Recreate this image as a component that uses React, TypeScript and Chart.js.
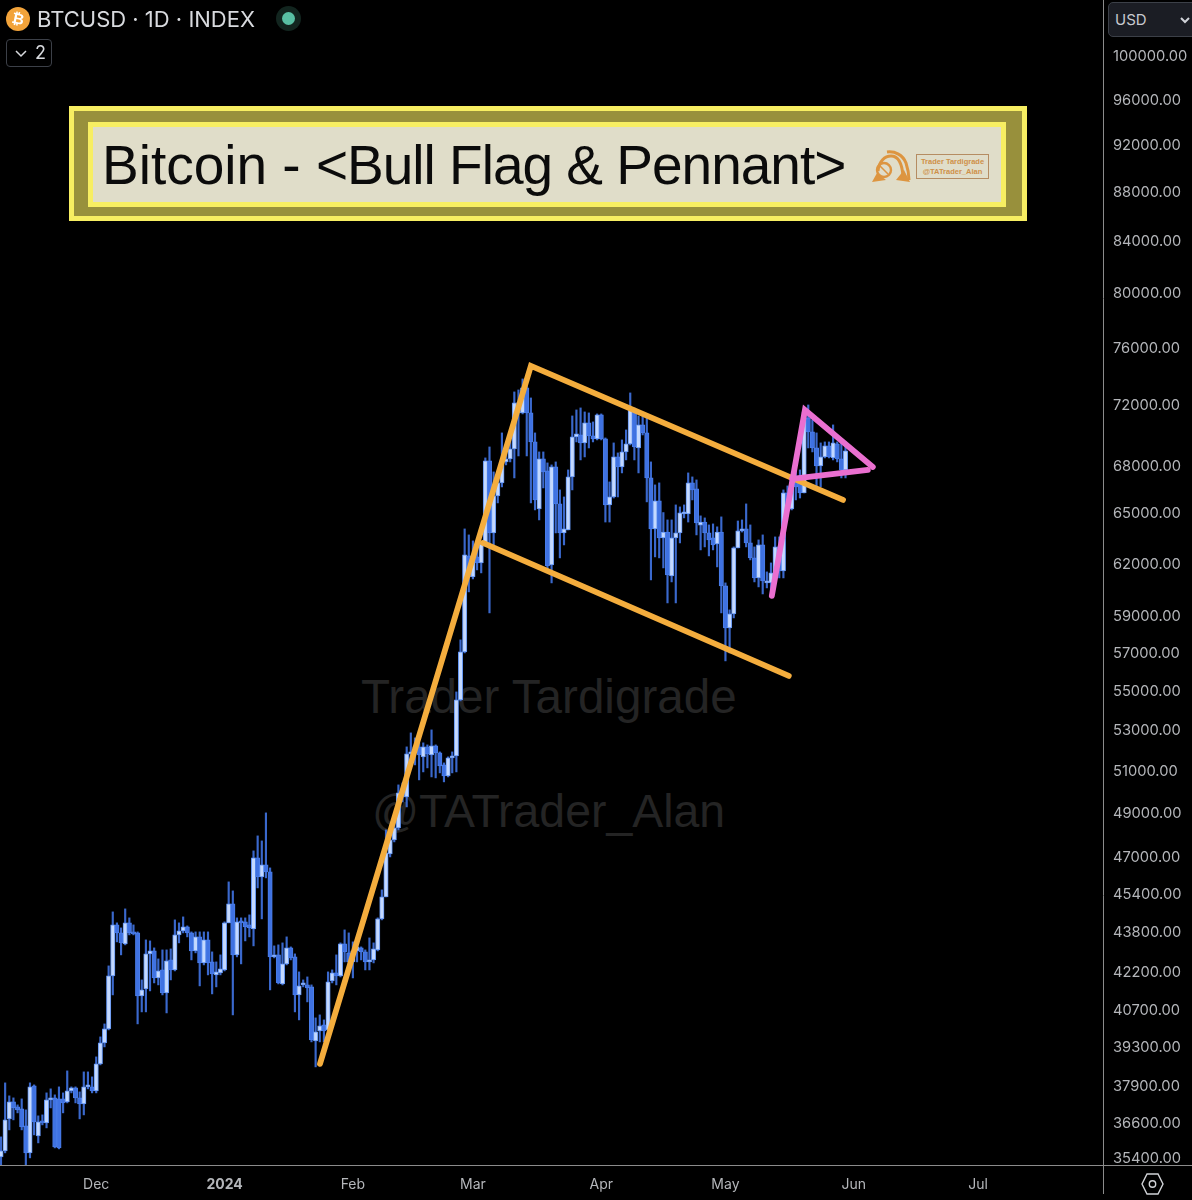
import React, { useEffect, useRef } from "react";
import { Chart, registerables } from "chart.js";

Chart.register(...registerables);

// Daily candles, 8 Nov 2023 (index 0) to 30 May 2024 (index 204)
const opens = [
  35397,35598,36688,37280,37105,37035,36447,35531,37847,36105,
  36584,36550,37350,37421,37385,37385,37280,37668,37776,37421,
  37210,37811,37811,37668,38639,39412,39935,41980,44048,43717,
  43266,44132,43717,43717,41197,41469,42860,42981,41901,42218,
  41313,42618,42218,43635,43799,43965,43717,42981,43553,42498,
  43429,42538,42020,42099,42218,44132,44928,42820,44173,44173,
  44048,43882,46918,46086,46610,46304,42740,42820,41665,42458,
  43103,42740,41235,41626,41626,41548,39486,39860,40085,39897,
  41783,42099,41980,43266,42901,42538,42981,43103,42941,42538,
  42618,43022,44298,45226,47096,47721,48264,49883,49696,51751,
  51848,52094,51605,52094,51702,52143,51800,51217,50689,51556,
  51653,54453,56973,62368,61147,62310,61957,63076,68209,63734,
  66000,66810,68145,68337,68984,72040,71365,73066,71365,69441,
  65192,68337,67569,61841,67825,65500,63734,63914,67188,69769,
  69900,69376,70694,69835,69637,71230,69637,65438,65932,68466,
  67825,68790,69310,71635,69048,70563,70033,67125,63974,65688,
  63441,63787,61205,63441,63734,64885,64885,66810,66432,64205,
  64391,63734,63441,63076,63787,60629,58277,59051,62840,63854,
  63974,63136,62251,61088,63017,60801,60801,61377,62899,61492,
  66183,65192,66872,66872,66183,71029,70100,69048,67889,68466,
  69179,68402,69310,68337,67633,
];
const closes = [
  35598,36653,37280,37070,37000,36412,35531,37811,36584,36584,
  36550,37350,37421,35732,35698,37245,37668,37776,37421,37210,
  37811,37847,37668,38639,39412,39935,41980,44048,43717,43307,
  44132,43717,43676,41197,41430,42860,42981,41901,42178,41313,
  42578,42218,43635,43799,43965,43717,42981,43553,42498,43429,
  42498,42060,42139,42258,44132,44928,42820,44173,44132,43965,
  43923,46918,46086,46610,46304,42740,42820,41704,42458,43103,
  42699,41235,41587,41704,41508,39523,39822,40047,39860,41744,
  42099,41980,43266,42941,42538,42981,43144,42941,42538,42618,
  43062,44298,45226,47140,47721,48264,49883,49696,51751,51848,
  52094,51702,52094,51751,52143,51800,51169,50689,51556,51653,
  54453,56973,62427,61147,62310,61957,63076,68209,63734,66000,
  66810,68145,68337,68984,72040,71365,73066,71365,69441,65747,
  68337,67506,61783,67825,65500,63734,63974,67188,69769,69967,
  69376,70694,69835,69637,71230,69637,65438,65932,68466,67825,
  68790,69310,71567,69113,70563,70033,67125,63974,65688,63441,
  63787,61261,63441,63734,64947,64947,66810,66370,64334,64391,
  63734,63315,63017,63787,60629,58277,59051,62840,63854,63974,
  63136,62251,61088,63017,60915,60858,61377,62899,61492,66183,
  65255,66872,66558,66183,71432,70100,69048,67889,68466,69179,
  68466,69376,68337,67633,68855,
];
const highs = [
  36070,37954,37492,37421,37175,37385,37000,37954,37882,36792,
  36826,37598,37740,37527,37811,37598,38385,37811,37811,37633,
  38349,38349,38169,38895,39635,40122,42378,44591,44132,43923,
  44717,44340,44048,43758,41822,43429,43388,43103,42658,43022,
  43022,43062,44256,44132,44381,44006,43758,43758,43758,43758,
  43758,42941,42538,42820,44173,45870,45482,44340,44340,44340,
  44465,47230,47902,47676,48952,46478,43185,43226,43307,43553,
  43144,42860,42139,41822,41940,41626,40351,40465,40275,42139,
  42218,42820,43307,43840,43717,43348,43511,43144,43022,43511,
  43307,44340,45525,48173,48173,48538,50261,50356,52094,52785,
  52537,52292,52292,52192,52935,52192,51848,51313,51605,51848,
  54864,57621,63974,63614,63255,63315,63195,68402,69113,67506,
  67188,70033,68919,70033,72792,72928,73688,73757,72380,70033,
  68790,68790,68081,67953,68145,66370,65932,67633,71163,71567,
  71702,71432,71365,70763,71298,71298,69703,66872,69376,68725,
  69572,70231,72723,71702,71163,71230,71163,68145,66684,66810,
  64969,64519,64519,65438,65315,65438,67442,67188,66998,64765,
  64642,64216,64277,64100,64704,60801,59273,62899,64455,64519,
  65500,64216,62899,63315,63614,61435,61957,63494,63494,66370,
  66620,66998,67633,67633,71567,71902,70896,70033,69376,69441,
  69441,70563,69441,69441,69441,
];
const lows = [
  35131,35531,36309,36653,36896,36309,35131,35364,36139,35867,
  36481,36378,37070,35698,35665,36896,37245,37598,37245,36688,
  36826,37740,37598,37598,38603,39263,39897,41235,43348,42820,
  43226,43635,43635,40124,40580,40580,41391,41704,41626,41235,
  40541,41822,42178,43307,43717,43553,42618,42901,41587,42418,
  42020,41274,41548,42020,42178,44132,40465,42740,42458,43388,
  43553,43185,45611,44298,46043,41430,42699,41665,41626,42418,
  42618,40580,40275,41548,40964,39449,38530,39449,39449,39860,
  41704,41626,41940,42538,42020,41901,42538,42618,42218,42218,
  42498,42981,44256,45226,46962,47631,48173,49462,49229,51217,
  51217,50498,50880,51073,50641,50594,50833,50404,50641,50833,
  50880,54402,56919,60288,61030,61550,61377,63017,59106,62840,
  65562,66558,67953,68145,67125,68530,71298,68530,65562,65130,
  64519,66495,61550,60801,63734,62251,63017,63914,66370,69441,
  68273,68466,69048,69441,69572,69572,64391,64391,65866,65932,
  67442,68273,69245,68273,67442,69900,65625,60973,62310,62251,
  61667,59665,60858,59665,63136,64642,64391,65747,63614,62721,
  62899,62368,62721,61725,59106,56492,56919,58828,62840,63787,
  62899,62133,60858,60572,60172,60515,60004,60973,61088,61088,
  64824,65130,65747,65866,66183,69048,68790,66370,66558,68402,
  68402,68273,68145,67125,67125,
];

// Axis ticks
const priceTicks = [
  35400,36600,37900,39300,40700,42200,43800,45400,47000,49000,51000,53000,55000,
  57000,59000,62000,65000,68000,72000,76000,80000,84000,88000,92000,96000,100000,
];
const monthTickDays = [23, 54, 85, 114, 145, 175, 206, 236];
const monthTickLabels = ["Dec", "2024", "Feb", "Mar", "Apr", "May", "Jun", "Jul"];

// Drawn trend lines (day index, price)
const poleAndFlagTopDays = [77.05, 128, 203.4];
const poleAndFlagTopPrices = [38639, 74600, 65747];
const flagBottomDays = [116.4, 190.3];
const flagBottomPrices = [63136, 55700];
const pennantUpperDays = [186.2, 194.2, 210.6];
const pennantUpperPrices = [60062, 71567, 67825];
const pennantLowerDays = [209.4, 191.1];
const pennantLowerPrices = [67633, 67060];

const titleLead = "Bitcoin - ";
const titleRest = "<Bull Flag & Pennant>";
const symbolLine = "BTCUSD · 1D · INDEX";

const AXIS_COLOR = "#8b8b8b";
const LABEL_COLOR = "#b4b6ba";
const ORANGE = "#f4ad3d";
const PINK = "#ea6fd0";

const pts = (xs: number[], ys: number[]) => xs.map((x, i) => ({ x, y: ys[i] }));

const trend = (xs: number[], ys: number[], color: string, order: number) => ({
  type: "line" as const,
  data: pts(xs, ys),
  borderColor: color,
  borderWidth: 5.8,
  pointRadius: 0,
  tension: 0,
  fill: false,
  borderCapStyle: "round" as const,
  borderJoinStyle: "miter" as const,
  order,
});

const frameLines = {
  id: "frameLines",
  afterDraw(chart: any) {
    const { ctx, chartArea } = chart;
    ctx.save();
    ctx.strokeStyle = AXIS_COLOR;
    ctx.lineWidth = 1;
    ctx.beginPath();
    ctx.moveTo(0, chartArea.bottom + 0.5);
    ctx.lineTo(1192, chartArea.bottom + 0.5);
    ctx.moveTo(chartArea.right + 0.5, 0);
    ctx.lineTo(chartArea.right + 0.5, 1194);
    ctx.stroke();
    ctx.restore();
  },
};

const noPadding = (s: any) => {
  s.paddingTop = 0;
  s.paddingBottom = 0;
  s.paddingLeft = 0;
  s.paddingRight = 0;
};

function CandleChart() {
  const ref = useRef<HTMLCanvasElement>(null);
  useEffect(() => {
    if (!ref.current) return;
    const isUp = closes.map((c, i) => c >= opens[i]);
    const chart = new Chart(ref.current, {
      type: "bar",
      data: {
        datasets: [
          trend(pennantUpperDays, pennantUpperPrices, PINK, 0),
          trend(pennantLowerDays, pennantLowerPrices, PINK, 0),
          trend(poleAndFlagTopDays, poleAndFlagTopPrices, ORANGE, 1),
          trend(flagBottomDays, flagBottomPrices, ORANGE, 1),
          {
            type: "bar" as const,
            data: opens.map((o, i) => ({ x: i, y: [o, closes[i]] })),
            grouped: false,
            barThickness: 4.4,
            minBarLength: 2,
            borderWidth: 1,
            borderSkipped: false,
            backgroundColor: isUp.map((u) => (u ? "#c4d9ff" : "#3f72e2")),
            borderColor: isUp.map((u) => (u ? "#6395f2" : "#4a7de8")),
            order: 2,
          },
          {
            type: "bar" as const,
            data: lows.map((l, i) => ({ x: i, y: [l, highs[i]] })),
            grouped: false,
            barThickness: 1.5,
            borderWidth: 0,
            backgroundColor: "#3a68cc",
            order: 3,
          },
        ] as any,
      },
      options: {
        responsive: false,
        animation: false,
        layout: { padding: 0 },
        events: [],
        plugins: { legend: { display: false }, tooltip: { enabled: false } },
        scales: {
          x: {
            type: "linear",
            min: -0.2415,
            max: 266.2,
            offset: false,
            grid: { display: false },
            border: { display: false },
            afterBuildTicks: (s: any) => {
              s.ticks = monthTickDays.map((value) => ({ value }));
            },
            afterFit: (s: any) => {
              s.height = 35;
              noPadding(s);
            },
            ticks: {
              autoSkip: false,
              maxRotation: 0,
              padding: 3,
              color: LABEL_COLOR,
              font: (c: any) => ({
                family: "Inter, sans-serif",
                size: 14,
                weight: monthTickLabels[c.index] === "2024" ? "bold" : "normal",
              }),
              callback: (_v: any, i: number) => monthTickLabels[i],
            },
          },
          y: {
            type: "logarithmic",
            position: "right",
            min: 35127,
            max: 105319,
            grid: { display: false },
            border: { display: false },
            afterBuildTicks: (s: any) => {
              s.ticks = priceTicks.map((value) => ({ value }));
            },
            afterFit: (s: any) => {
              s.width = 89;
              noPadding(s);
            },
            ticks: {
              autoSkip: false,
              padding: 2,
              labelOffset: 2,
              color: LABEL_COLOR,
              font: { family: "Inter, sans-serif", size: 14.7 },
              callback: (v: any) => Number(v).toFixed(2),
            },
          },
        },
      } as any,
      plugins: [frameLines],
    });
    return () => chart.destroy();
  }, []);
  return (
    <canvas
      ref={ref}
      width={1192}
      height={1200}
      style={{ position: "absolute", left: 0, top: 0, display: "block" }}
    />
  );
}

const abs = (s: React.CSSProperties): React.CSSProperties => ({ position: "absolute", ...s });

export default function App() {
  return (
    <div
      style={{
        position: "relative",
        width: 1192,
        height: 1200,
        background: "#000",
        overflow: "hidden",
        fontFamily: "Inter, sans-serif",
      }}
    >
      <style>{"html,body{margin:0;background:#000}"}</style>

      {/* watermark under the candles */}
      <div
        style={abs({
          left: 361,
          top: 669,
          fontFamily: "'Liberation Sans', sans-serif",
          fontSize: 47.6,
          lineHeight: "56px",
          color: "#242424",
          whiteSpace: "nowrap",
        })}
      >
        Trader Tardigrade
      </div>
      <div
        style={abs({
          left: 372,
          top: 783,
          fontFamily: "'Liberation Sans', sans-serif",
          fontSize: 46.4,
          lineHeight: "56px",
          color: "#242424",
          whiteSpace: "nowrap",
        })}
      >
        @TATrader_Alan
      </div>

      <CandleChart />

      {/* symbol header */}
      <div
        style={abs({
          left: 6,
          top: 7,
          width: 24,
          height: 24,
          borderRadius: 12,
          background: "#f2a33a",
          color: "#fff",
          fontFamily: "'DejaVu Sans', sans-serif",
          fontWeight: 700,
          fontSize: 15,
          lineHeight: "24px",
          textAlign: "center",
        })}
      >
        <span style={{ display: "inline-block", transform: "rotate(12deg)" }}>₿</span>
      </div>
      <div
        style={abs({
          left: 37,
          top: 6,
          fontSize: 22,
          lineHeight: "26px",
          color: "#d8dade",
          whiteSpace: "nowrap",
        })}
      >
        {symbolLine}
      </div>
      <div style={abs({ left: 276, top: 6, width: 25, height: 25, borderRadius: 13, background: "#12251f" })} />
      <div style={abs({ left: 282, top: 12, width: 13, height: 13, borderRadius: 7, background: "#58bfa3" })} />
      <div
        style={abs({
          left: 6,
          top: 39,
          width: 44,
          height: 26,
          border: "1px solid #3c4048",
          borderRadius: 4,
          boxSizing: "content-box",
        })}
      >
        <svg width="14" height="10" style={{ position: "absolute", left: 7, top: 9 }}>
          <path d="M2 2 L7 7 L12 2" stroke="#d8dade" strokeWidth="1.5" fill="none" />
        </svg>
        <span style={abs({ left: 28, top: 1, fontSize: 18, lineHeight: "24px", color: "#d8dade" })}>2</span>
      </div>

      {/* currency selector */}
      <div
        style={abs({
          left: 1108,
          top: 2,
          width: 92,
          height: 35,
          boxSizing: "border-box",
          background: "#1b1d24",
          border: "1px solid #3c4048",
          borderRadius: 5,
        })}
      >
        <span style={abs({ left: 6, top: 7, fontSize: 15, lineHeight: "20px", color: "#c8cad0" })}>USD</span>
        <svg width="12" height="8" style={{ position: "absolute", left: 71, top: 14 }}>
          <path d="M1 1 L5 5 L9 1" stroke="#d0d2d8" strokeWidth="2" fill="none" />
        </svg>
      </div>

      {/* settings icon */}
      <svg width="24" height="24" style={{ position: "absolute", left: 1141, top: 1172 }}>
        <path d="M6 2 L17 2 L22 12 L17 22 L6 22 L1 12 Z" stroke="#d0d2d6" strokeWidth="1.4" fill="none" />
        <circle cx="11.5" cy="12" r="3.2" stroke="#d0d2d6" strokeWidth="1.4" fill="none" />
      </svg>

      {/* title banner */}
      <div
        style={abs({
          left: 69,
          top: 106,
          width: 958,
          height: 115,
          boxSizing: "border-box",
          background: "#98903c",
          border: "5px solid #f7ee62",
        })}
      />
      <div
        style={abs({
          left: 88,
          top: 122,
          width: 918,
          height: 85,
          boxSizing: "border-box",
          background: "#e0ddc9",
          border: "5px solid #f7ee62",
        })}
      />
      <div
        style={abs({
          left: 102,
          top: 133,
          fontFamily: "'Liberation Sans', Arial, sans-serif",
          fontSize: 55,
          lineHeight: "65px",
          color: "#0b0b0b",
          whiteSpace: "nowrap",
        })}
      >
        {titleLead}
        <span style={{ letterSpacing: -1 }}>{titleRest}</span>
      </div>

      {/* banner logo */}
      <svg width="44" height="36" style={{ position: "absolute", left: 869, top: 149 }}>
        <g fill="none" stroke="#dd9540" strokeWidth="3">
          <path d="M9 22 C10 12 16 7 22 7 C29 7 33 14 34 27" />
          <path d="M18 3 C26 2 34 6 37 14 C39 20 40 25 40 31" />
          <circle cx="15" cy="21" r="7" strokeWidth="2.4" />
          <path d="M11 17 L19 25" strokeWidth="1.6" />
        </g>
        <path d="M3 33 L8 24 L17 31 Z M27 31 L35 21 L41 33 Z" fill="#dd9540" />
      </svg>
      <div
        style={abs({
          left: 916,
          top: 154,
          width: 73,
          height: 25,
          boxSizing: "border-box",
          border: "1px solid #b58c62",
          color: "#cf9048",
          fontFamily: "'Liberation Sans', sans-serif",
          fontWeight: 700,
          fontSize: 7.5,
          lineHeight: "10px",
          textAlign: "center",
          paddingTop: 2,
          whiteSpace: "nowrap",
        })}
      >
        Trader Tardigrade
        <br />
        @TATrader_Alan
      </div>
    </div>
  );
}
